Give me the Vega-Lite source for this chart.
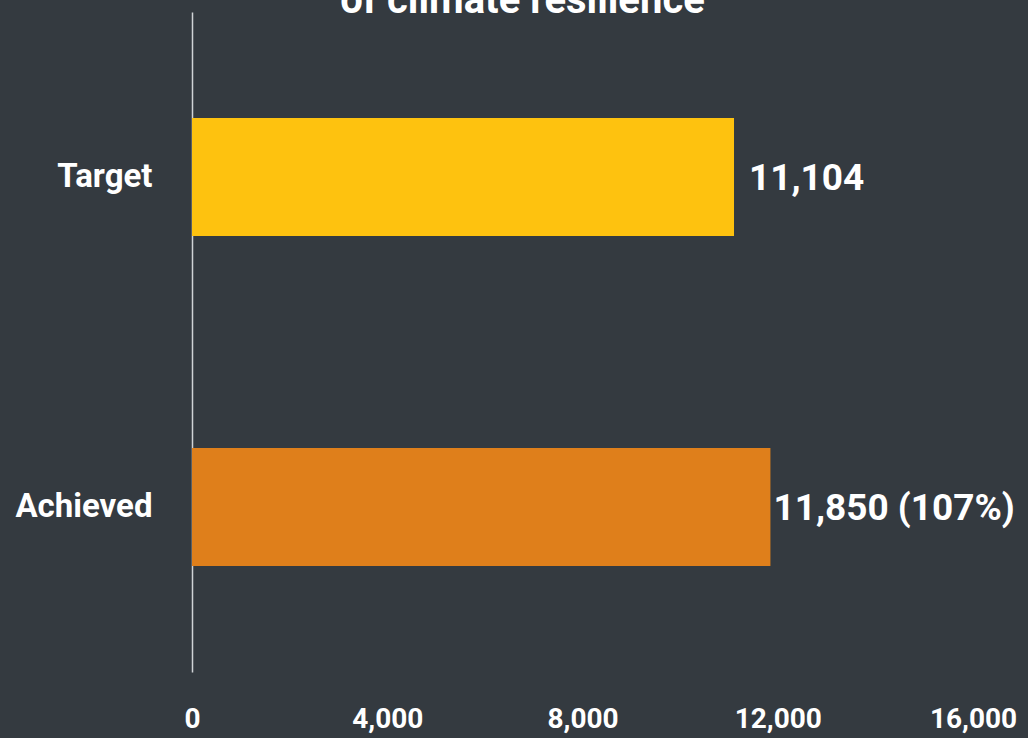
{
  "$schema": "https://vega.github.io/schema/vega-lite/v6.json",
  "autosize": "none",
  "width": 781,
  "height": 660,
  "padding": {"left": 192, "top": 12, "right": 55, "bottom": 66},
  "background": "#343a40",
  "title": {
    "text": "of climate resilience",
    "anchor": "middle",
    "frame": "group",
    "baseline": "alphabetic",
    "offset": 0,
    "dy": 41,
    "dx": -60,
    "font": "Roboto",
    "fontSize": 40,
    "fontWeight": "bold",
    "color": "#ffffff"
  },
  "data": {
    "values": [
      {"category": "Target", "value": 11104, "label": "11,104"},
      {"category": "Achieved", "value": 11850, "label": "11,850 (107%)"}
    ]
  },
  "config": {
    "view": {"stroke": null},
    "font": "Roboto"
  },
  "encoding": {
    "y": {
      "field": "category",
      "type": "nominal",
      "sort": ["Target", "Achieved"],
      "scale": {"paddingInner": 0.642, "paddingOuter": 0.321},
      "axis": {
        "title": null,
        "ticks": false,
        "labelPadding": 40,
        "labelFont": "Roboto",
        "labelFontSize": 33,
        "labelFontWeight": "bold",
        "labelColor": "#ffffff",
        "domainColor": "#d0d3d6",
        "domainWidth": 1.5,
        "grid": false
      }
    },
    "x": {
      "field": "value",
      "type": "quantitative",
      "scale": {"domain": [0, 16000], "nice": false},
      "axis": {
        "title": null,
        "values": [0, 4000, 8000, 12000, 16000],
        "format": ",d",
        "domain": false,
        "ticks": false,
        "grid": false,
        "labelPadding": 33,
        "labelFont": "Roboto",
        "labelFontSize": 28,
        "labelFontWeight": "bold",
        "labelColor": "#ffffff",
        "labelFlush": false
      }
    }
  },
  "layer": [
    {
      "mark": {"type": "bar"},
      "encoding": {
        "color": {
          "field": "category",
          "type": "nominal",
          "scale": {"domain": ["Target", "Achieved"], "range": ["#fec20f", "#df7f1b"]},
          "legend": null
        }
      }
    },
    {
      "transform": [{"filter": "datum.category === 'Target'"}],
      "mark": {"type": "text", "align": "left", "baseline": "middle", "dx": 15, "dy": 2, "font": "Roboto", "fontSize": 37, "fontWeight": "bold", "color": "#ffffff"},
      "encoding": {"text": {"field": "label"}}
    },
    {
      "transform": [{"filter": "datum.category === 'Achieved'"}],
      "mark": {"type": "text", "align": "left", "baseline": "middle", "dx": 3, "dy": 2, "font": "Roboto", "fontSize": 37, "fontWeight": "bold", "color": "#ffffff"},
      "encoding": {"text": {"field": "label"}}
    }
  ]
}
